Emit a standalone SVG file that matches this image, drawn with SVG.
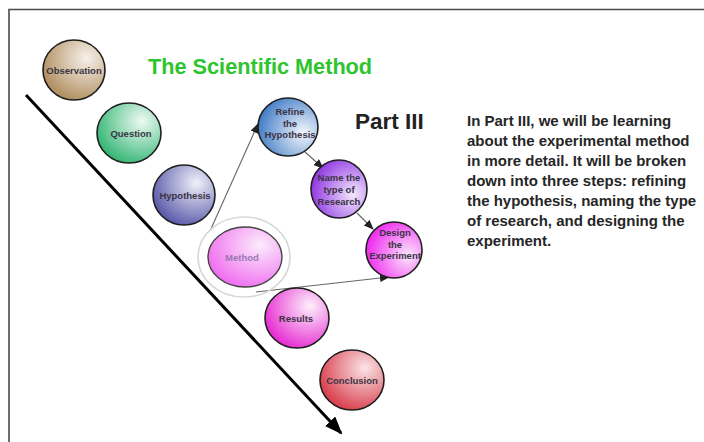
<svg xmlns="http://www.w3.org/2000/svg" width="704" height="442" viewBox="0 0 704 442">
<style>
.n{stroke:#1e1e1e;stroke-width:1.6}
.lb{font-family:"Liberation Sans",Arial,sans-serif;font-weight:bold;font-size:9.5px;fill:#3a3444;text-anchor:middle}
.c{stroke:#666;stroke-width:1.1;fill:none;marker-end:url(#ah)}
.p{font-family:"Liberation Sans",Arial,sans-serif;font-weight:bold;font-size:15px;fill:#262626}
</style>
<defs>
<marker id="ah" markerWidth="10" markerHeight="8" refX="9" refY="4" orient="auto" markerUnits="userSpaceOnUse"><path d="M0,0 L10,4 L0,8 Z" fill="#222"/></marker>
<marker id="big" markerWidth="18" markerHeight="14" refX="16" refY="7" orient="auto" markerUnits="userSpaceOnUse"><path d="M0,0 L18,7 L0,14 Z" fill="#000"/></marker>
<radialGradient id="gObs" cx="0.7" cy="0.3" r="0.85"><stop offset="0" stop-color="#f6f1ea"/><stop offset="1" stop-color="#a8824f"/></radialGradient>
<radialGradient id="gQue" cx="0.7" cy="0.3" r="0.85"><stop offset="0" stop-color="#eefaf3"/><stop offset="1" stop-color="#1fae66"/></radialGradient>
<radialGradient id="gHyp" cx="0.7" cy="0.3" r="0.85"><stop offset="0" stop-color="#f0f0fa"/><stop offset="1" stop-color="#4848a0"/></radialGradient>
<radialGradient id="gRef" cx="0.75" cy="0.6" r="0.85"><stop offset="0" stop-color="#f2f6fc"/><stop offset="1" stop-color="#2e6fc0"/></radialGradient>
<radialGradient id="gNam" cx="0.75" cy="0.6" r="0.85"><stop offset="0" stop-color="#f2e8fb"/><stop offset="1" stop-color="#8420e0"/></radialGradient>
<radialGradient id="gDes" cx="0.75" cy="0.6" r="0.85"><stop offset="0" stop-color="#fbe6fb"/><stop offset="1" stop-color="#ee10ee"/></radialGradient>
<radialGradient id="gMet" cx="0.7" cy="0.3" r="0.85"><stop offset="0" stop-color="#fcecfc"/><stop offset="1" stop-color="#ee60ee"/></radialGradient>
<radialGradient id="gRes" cx="0.7" cy="0.3" r="0.85"><stop offset="0" stop-color="#fdf0fb"/><stop offset="1" stop-color="#e414cc"/></radialGradient>
<radialGradient id="gCon" cx="0.7" cy="0.3" r="0.85"><stop offset="0" stop-color="#fbe4e6"/><stop offset="1" stop-color="#d42a3a"/></radialGradient>
</defs>
<rect width="704" height="442" fill="#fff"/>
<path d="M9,442 L9,9.5 L704,9.5" fill="none" stroke="#4a4a4a" stroke-width="1.6"/>
<text x="148" y="74" font-family="'Liberation Sans',Arial,sans-serif" font-weight="bold" font-size="21.7" fill="#2ec42e">The Scientific Method</text>
<text x="355" y="129" font-family="'Liberation Sans',Arial,sans-serif" font-weight="bold" font-size="22.5" fill="#222">Part III</text>
<text class="p">
<tspan x="467" y="126">In Part III, we will be learning</tspan>
<tspan x="467" y="146">about the experimental method</tspan>
<tspan x="467" y="166">in more detail. It will be broken</tspan>
<tspan x="467" y="186">down into three steps: refining</tspan>
<tspan x="467" y="206">the hypothesis, naming the type</tspan>
<tspan x="467" y="226">of research, and designing the</tspan>
<tspan x="467" y="246">experiment.</tspan>
</text>
<g id="connectors">
<line x1="26" y1="95" x2="341" y2="433" stroke="#000" stroke-width="3" marker-end="url(#big)"/>
<line class="c" x1="210" y1="231" x2="258" y2="124"/>
<line class="c" x1="305" y1="152" x2="323" y2="168"/>
<line class="c" x1="357" y1="213" x2="373" y2="229"/>
<line class="c" x1="256" y1="292" x2="389" y2="277"/>
</g>
<g id="observation"><ellipse class="n" cx="74" cy="70" rx="31" ry="30" fill="url(#gObs)"/><text class="lb" x="74" y="74" font-size="10">Observation</text></g>
<g id="question"><ellipse class="n" cx="129" cy="133" rx="32" ry="30" fill="url(#gQue)"/><text class="lb" x="131" y="137" font-size="10">Question</text></g>
<g id="hypothesis"><ellipse class="n" cx="184" cy="195" rx="31" ry="30" fill="url(#gHyp)"/><text class="lb" x="185" y="199" font-size="10">Hypothesis</text></g>
<g id="refine"><ellipse class="n" cx="288" cy="127" rx="30" ry="29" fill="url(#gRef)"/><text class="lb" x="290"><tspan x="290" y="115">Refine</tspan><tspan x="290" y="126.5">the</tspan><tspan x="290" y="138">Hypothesis</tspan></text></g>
<g id="name"><ellipse class="n" cx="339" cy="189" rx="28" ry="29" fill="url(#gNam)"/><text class="lb" x="339"><tspan x="339" y="181">Name the</tspan><tspan x="339" y="193">type of</tspan><tspan x="339" y="205">Research</tspan></text></g>
<g id="design"><ellipse class="n" cx="394" cy="250" rx="28" ry="28" fill="url(#gDes)"/><text class="lb" x="395"><tspan x="395" y="236">Design</tspan><tspan x="395" y="248">the</tspan><tspan x="395" y="259">Experiment</tspan></text></g>
<g id="method"><ellipse cx="244" cy="257" rx="46" ry="40" fill="none" stroke="#d4dbd4" stroke-width="1.6"/><ellipse cx="245" cy="257" rx="37" ry="30" fill="url(#gMet)" stroke="#444" stroke-width="1.4"/><text class="lb" x="242" y="261" font-size="10.5" style="fill:#9a78b4">Method</text></g>
<g id="results"><ellipse class="n" cx="297" cy="318" rx="32" ry="30" fill="url(#gRes)"/><text class="lb" x="296" y="322" font-size="10">Results</text></g>
<g id="conclusion"><ellipse class="n" cx="352" cy="380" rx="32" ry="30" fill="url(#gCon)"/><text class="lb" x="352" y="384" font-size="10">Conclusion</text></g>
</svg>
